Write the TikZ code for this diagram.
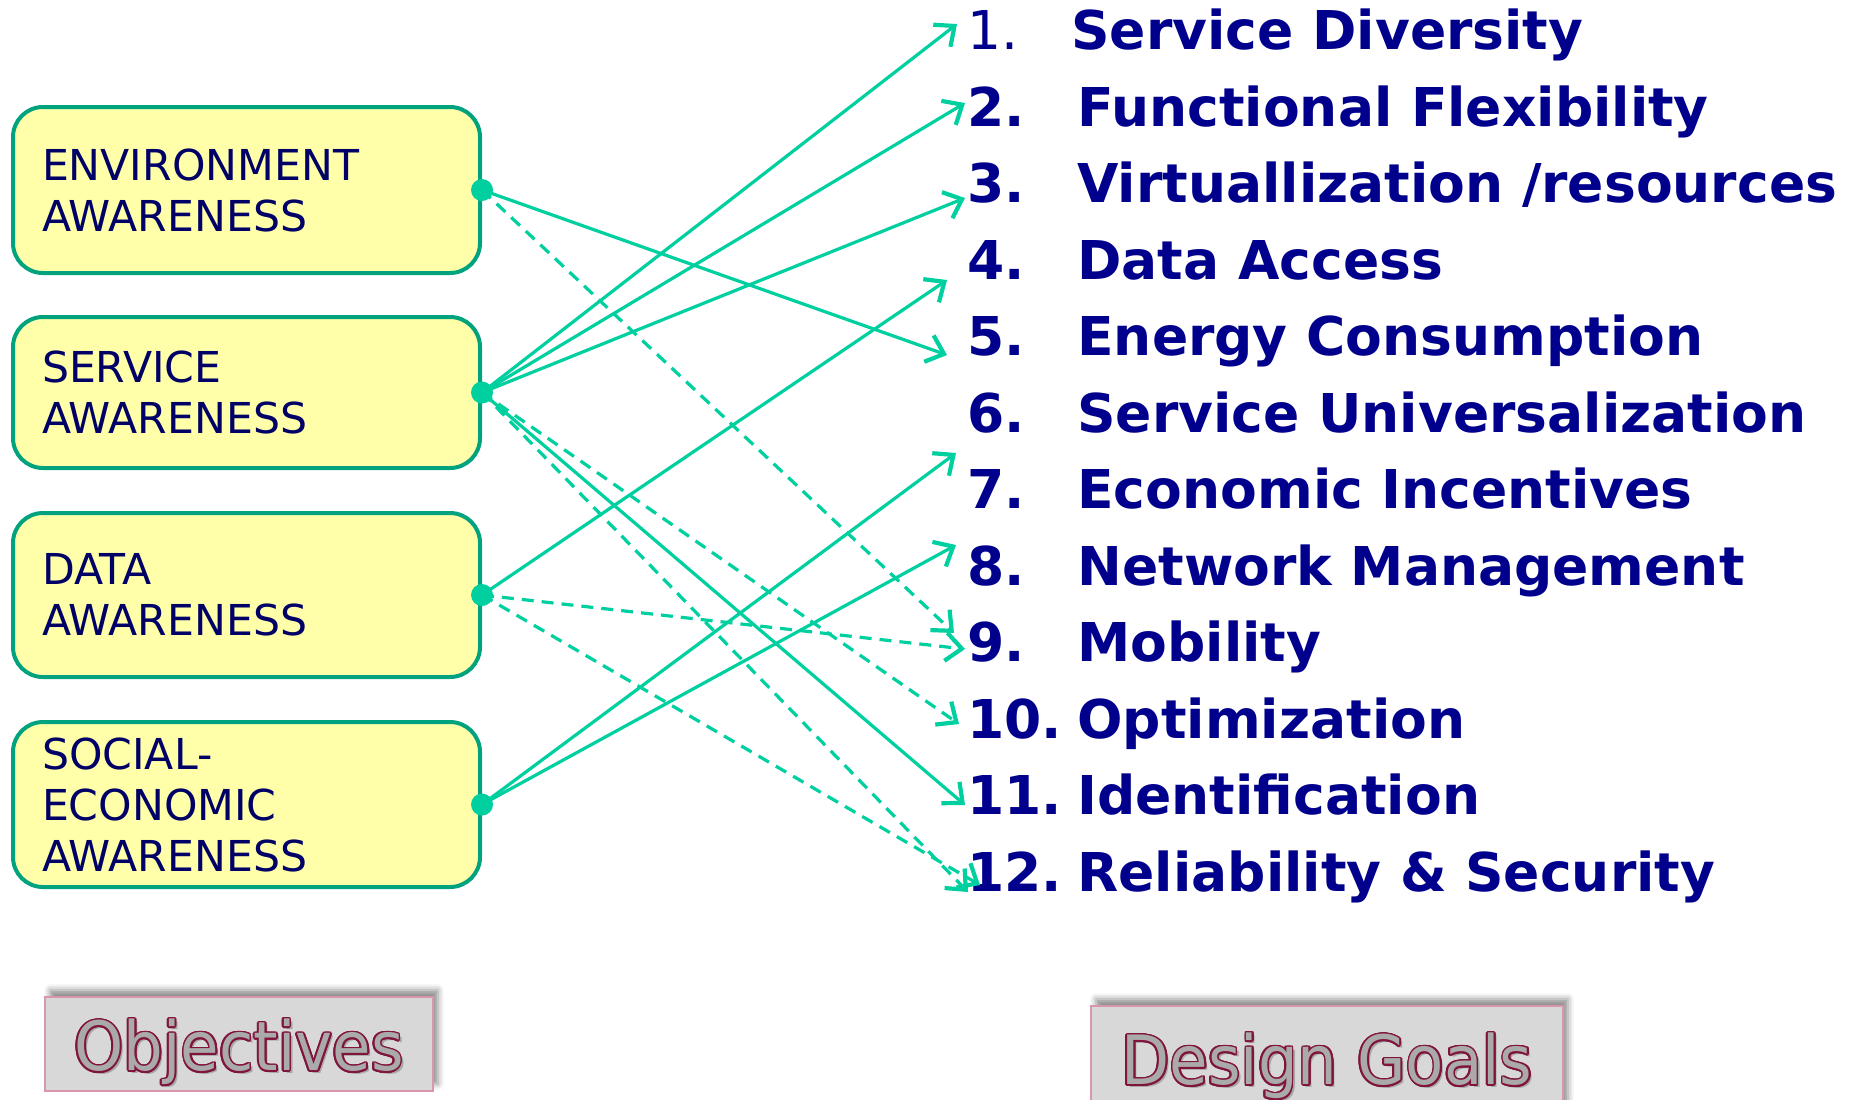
\documentclass[tikz,border=0pt]{standalone}
\usepackage{fontspec}
\setmainfont{DejaVu Sans}
\newfontfamily\tagfont{DejaVu Sans}[FakeStretch=0.92]
\usetikzlibrary{arrows.meta,shadows.blur}

\definecolor{boxfill}{RGB}{255,255,170}
\definecolor{boxedge}{RGB}{0,163,125}
\definecolor{boxtext}{RGB}{0,0,102}
\definecolor{goaltext}{RGB}{0,0,140}
\definecolor{linkcol}{RGB}{0,208,160}
\definecolor{tagfill}{RGB}{216,216,216}
\definecolor{tagedge}{RGB}{215,150,170}
\definecolor{tagletter}{RGB}{170,170,170}
\definecolor{tagoutline}{RGB}{128,20,60}

% number column of the goal list
\newcommand\numbox[1]{\makebox[55pt][l]{#1}}
% hollow lettering of the two captions
\newcommand\hollow[1]{%
  \rlap{\kern1.5pt\raisebox{-1.5pt}{\textcolor{black!35}{#1}}}%
  \foreach \ang in {0,20,...,340}{%
    \pgfmathsetmacro\ox{0.85*cos(\ang)}%
    \pgfmathsetmacro\oy{0.85*sin(\ang)}%
    \rlap{\kern\ox pt\raisebox{\oy pt}{\textcolor{tagoutline}{#1}}}}%
  \textcolor{tagletter}{#1}}

\tikzset{
  objective/.style={draw=boxedge, fill=boxfill, line width=2pt, rounded corners=15pt,
    text=boxtext, font=\fontsize{21.3}{25.5}\selectfont, align=left,
    text width=204.5pt, inner xsep=14.5pt, inner ysep=0pt},
  goal/.style={anchor=base west, inner sep=0pt, text=goaltext,
    font=\fontsize{26.75}{30}\selectfont\bfseries},
  link/.style={draw=linkcol, line width=1.6pt,
    -{Straight Barb[length=8pt,width=14pt,line width=2.1pt]}},
  maybe/.style={link, dash pattern=on 6pt off 4pt},
  tag/.style={fill=tagfill, draw=tagedge, line width=0.8pt, inner sep=0pt,
    blur shadow={shadow xshift=2.5pt, shadow yshift=3.5pt, shadow blur radius=3pt,
    shadow opacity=45}, font=\tagfont\fontsize{34}{40}\selectfont, text depth=0pt}
}

\begin{document}
\begin{tikzpicture}[x=0.5pt, y=-0.5pt]
            \useasboundingbox (0,0) rectangle (1856,1099);
            \def \xbox  {246.5}
            \def \xnum  {967}
            \def \dotr  {5.5pt}

% objectives
            \node [objective, minimum height=83pt] (env) at (\xbox, 190) {ENVIRONMENT\\AWARENESS};
            \node [objective, minimum height=75.5pt] (serv) at (\xbox, 392.5) {SERVICE\\AWARENESS};
            \node [objective, minimum height=82pt] (data) at (\xbox, 595) {DATA\\AWARENESS};
            \node [objective, minimum height=82.5pt] (soc) at (\xbox, 804.5) {SOCIAL-\\ECONOMIC\\AWARENESS};

% design goals
            \node [goal] (g1) at (\xnum, 49.5) {\numbox{\mdseries 1.}\kern-3pt Service Diversity};
            \node [goal] (g2) at (\xnum, 126) {\numbox{2.}Functional Flexibility};
            \node [goal] (g3) at (\xnum, 202.5) {\numbox{3.}Virtuallization /resources};
            \node [goal] (g4) at (\xnum, 279) {\numbox{4.}Data Access};
            \node [goal] (g5) at (\xnum, 355.5) {\numbox{5.}Energy Consumption};
            \node [goal] (g6) at (\xnum, 432) {\numbox{6.}Service Universalization};
            \node [goal] (g7) at (\xnum, 508.5) {\numbox{7.}Economic Incentives};
            \node [goal] (g8) at (\xnum, 585) {\numbox{8.}Network Management};
            \node [goal] (g9) at (\xnum, 661.5) {\numbox{9.}Mobility};
            \node [goal] (g10) at (\xnum, 738) {\numbox{10.}Optimization};
            \node [goal] (g11) at (\xnum, 814.5) {\numbox{11.}Identification};
            \node [goal] (g12) at (\xnum, 891) {\numbox{12.}Reliability \& Security};

% links
            \draw [link] (env.east) -- ([shift={(-20,-0.5)}]g5.base west);
            \draw [maybe] (env.east) -- ([shift={(-13,-28.5)}]g9.base west);

            \draw [link] (serv.east) -- ([shift={(-10,-25.5)}]g1.base west);
            \draw [link] (serv.east) -- ([shift={(-2,-23)}]g2.base west);
            \draw [link] (serv.east) -- ([shift={(-2,-4.5)}]g3.base west);
            \draw [maybe] (serv.east) -- ([shift={(-8,-14)}]g10.base west);
            \draw [link] (serv.east) -- ([shift={(-2,-9.5)}]g11.base west);
            \draw [maybe] (serv.east) -- ([shift={(1,1)}]g12.base west);

            \draw [link] (data.east) -- ([shift={(-20,1)}]g4.base west);
            \draw [maybe] (data.east) -- ([shift={(-2,-12.5)}]g9.base west);
            \draw [maybe] (data.east) -- ([shift={(13,-6)}]g12.base west);

            \draw [link] (soc.east) -- ([shift={(-11,-55.5)}]g7.base west);
            \draw [link] (soc.east) -- ([shift={(-11,-40)}]g8.base west);

            \foreach \src in {env, serv, data, soc}
                \fill [linkcol] (\src.east) circle (\dotr);

% captions
            \node [tag, minimum width=194pt, minimum height=47pt] (obj) at (239, 1044) {\hollow{Objectives}};
            \node [tag, minimum width=236pt, minimum height=52pt] (dsg) at (1327, 1058) {\hollow{Design Goals}};
\end{tikzpicture}
\end{document}
